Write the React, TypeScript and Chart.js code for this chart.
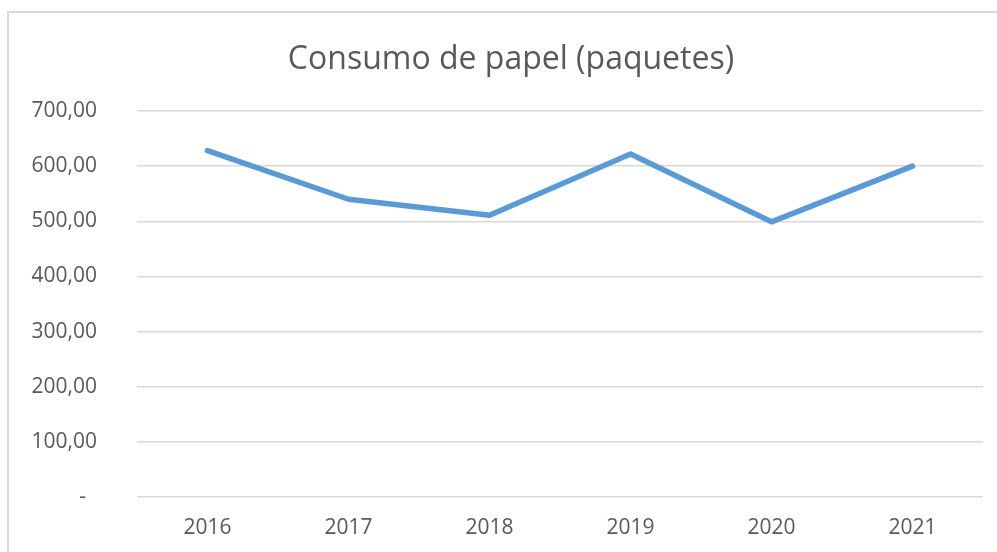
import React, { useEffect, useRef } from "react";
import { Chart, registerables } from "chart.js";

Chart.register(...registerables);

const TITLE = "Consumo de papel (paquetes)";
const YEARS = ["2016", "2017", "2018", "2019", "2020", "2021"];
const CONSUMO = [628, 540, 511, 622, 499, 600];
const Y_MIN = 0;
const Y_MAX = 700;
const Y_STEP = 100;

const FONT = "'Open Sans', 'Noto Sans', sans-serif";
const TEXT = "#595959";
const GRID = "#d9d9d9";
const LINE = "#5b9bd5";

function fmt(v: number): string {
  if (v === 0) return "-  ";
  return v.toFixed(2).replace(".", ",");
}

const titlePlugin = {
  id: "excelTitle",
  afterDraw(chart: any) {
    const ctx = chart.ctx;
    ctx.save();
    ctx.font = `normal 32px ${FONT}`;
    ctx.fillStyle = TEXT;
    ctx.textAlign = "center";
    ctx.textBaseline = "alphabetic";
    ctx.fillText(TITLE, 511, 69);
    ctx.restore();
  },
};

export default function App() {
  const ref = useRef<HTMLCanvasElement | null>(null);
  useEffect(() => {
    if (!ref.current) return;
    const chart = new Chart(ref.current, {
      type: "line",
      data: {
        labels: YEARS,
        datasets: [
          {
            label: TITLE,
            data: CONSUMO,
            borderColor: LINE,
            backgroundColor: LINE,
            borderWidth: 5.5,
            pointRadius: 0,
            tension: 0,
            borderCapStyle: "round",
            borderJoinStyle: "round",
          },
        ],
      },
      options: {
        responsive: false,
        animation: false,
        layout: { padding: { left: 0, right: 14, top: 111, bottom: 0 } },
        plugins: {
          legend: { display: false },
          tooltip: { enabled: false },
          title: { display: false },
        },
        scales: {
          x: {
            offset: true,
            grid: { display: false, drawTicks: false },
            border: { display: false },
            ticks: { color: TEXT, font: { family: FONT, size: 21 }, padding: 18 },
            afterFit: (s: any) => {
              s.height = 55;
            },
          },
          y: {
            min: Y_MIN,
            max: Y_MAX,
            grid: { color: GRID, lineWidth: 1.5, drawTicks: false },
            border: { display: false },
            ticks: {
              stepSize: Y_STEP,
              color: TEXT,
              font: { family: FONT, size: 21 },
              padding: 40,
              callback: (v: any) => fmt(Number(v)),
            },
            afterFit: (s: any) => {
              s.width = 137;
            },
          },
        },
      },
      plugins: [titlePlugin],
    });
    return () => chart.destroy();
  }, []);
  return (
    <div style={{ position: "fixed", left: 0, top: 0, width: 997, height: 552, background: "#fff", overflow: "hidden" }}>
      <div
        style={{
          position: "absolute",
          left: 7,
          top: 11,
          right: -10,
          bottom: -10,
          borderLeft: `2px solid ${GRID}`,
          borderTop: `2px solid ${GRID}`,
        }}
      />
      <canvas ref={ref} width={997} height={552} style={{ position: "absolute", left: 0, top: 0 }} />
    </div>
  );
}
